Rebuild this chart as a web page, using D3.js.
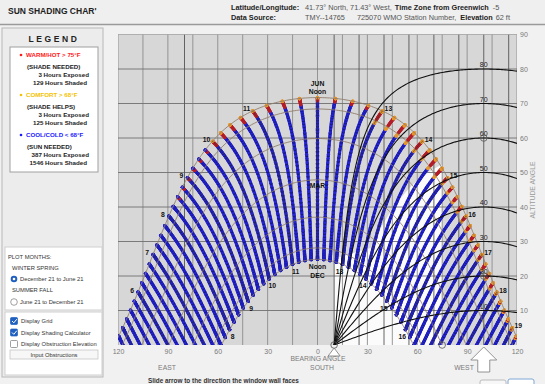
<!DOCTYPE html>
<html>
<head>
<meta charset="utf-8">
<script src="https://cdn.jsdelivr.net/npm/d3@7/dist/d3.min.js"></script>
<style>
  body { margin: 0; background: #f1f1f1; }
  text { font-family: "Liberation Sans", Arial, sans-serif; }
</style>
</head>
<body>
<svg id="chart"></svg>
<script>
// site + shading calculator settings
const latitude = 41.73;
const facadeBearing = 100;     // arrow under WEST
const overhangProfile = 55;    // top of the white area
const finBearing = 75;         // right edge of the white area
const sideCut = [10, 25, 32];  // bearing, altitude at the left edge; bearing where it meets the overhang curve

const headerTitle = "SUN SHADING CHAR'";
const headerRow1 = ["Latitude/Longitude:", "41.73° North, 71.43° West,", "Time Zone from Greenwich", "-5"];
const headerRow2 = ["Data Source:", "TMY--14765", "725070 WMO Station Number,", "Elevation", "62 ft"];

const legendLabels = ["WARM/HOT > 75°F", "COMFORT > 68°F", "COOL/COLD < 68°F"];
const legendNeeds = ["(SHADE NEEDED)", "(SHADE HELPS)", "(SUN NEEDED)"];
const hoursExposed = [3, 3, 387];
const hoursShaded = [129, 125, 1546];

const monthDays = [172, 141, 111, 80, 52, 21, 355]; // the 21st, Jun back to Dec (day of year)
const junHours = [6, 7, 8, 9, 10, 11, 13, 14, 15, 16, 17, 18, 19];
const decHours = [8, 9, 10, 11, 13, 14, 15, 16];
const profileAngles = [10, 20, 30, 40, 50, 60, 70, 80];
const finLines = [-80, 10, 25, 40, 55, 70, 85, 100, 115];
const bearingTicks = [-120, -90, -60, -30, 0, 30, 60, 90, 120];
const altitudeTicks = [10, 20, 30, 40, 50, 60, 70, 80, 90];

// june end of each 15 min stripe: one letter per 6 days back from Jun 21
const tipStart = [8.5, 10, 12, 13, 15, 18];
const tipCodes = ["brr", "orrr", "orr", "oorrro", "orrro", "oro"];

const colors = { b: "#2424d4", d: "#16168c", r: "#b31e2a", o: "#e8962a" };
const legendColors = ["#ff1a1a", "#f2c200", "#1a1aff"];

const svg = d3.select("#chart").attr("width", 545).attr("height", 384);
const rad = Math.PI / 180;

function sunPos(day, hour) {
  const dec = 23.45 * Math.sin(rad * 360 * (284 + day) / 365) * rad;
  const H = 15 * (hour - 12) * rad, lat = latitude * rad;
  const sinAlt = Math.sin(lat) * Math.sin(dec) + Math.cos(lat) * Math.cos(dec) * Math.cos(H);
  const alt = Math.asin(sinAlt) / rad;
  const az = Math.atan2(Math.sin(H) * Math.cos(dec),
    Math.cos(H) * Math.cos(dec) * Math.sin(lat) - Math.sin(dec) * Math.cos(lat)) / rad;
  return { az, alt };
}

const days = d3.range(355, 366).concat(d3.range(1, 173));
const daysBack = d => d <= 172 ? 172 - d : 172 + 365 - d;

// ---------- header ----------
svg.append("rect").attr("x", 0).attr("y", 0).attr("width", 545).attr("height", 24).attr("fill", "#efefef");
svg.append("line").attr("x1", 0).attr("x2", 545).attr("y1", 24.5).attr("y2", 24.5).attr("stroke", "#9a9a9a").attr("stroke-width", 1.5);
svg.append("text").attr("x", 8).attr("y", 14).text(headerTitle)
  .style("font-size", "8.5px").style("font-weight", "bold").attr("fill", "#222");

function headerRow(items, bold, yy, gaps) {
  let xx = 231;
  items.forEach((t, i) => {
    if (i == 1) xx = 305;
    const el = svg.append("text").attr("x", xx).attr("y", yy).text(t)
      .style("font-size", "7.3px")
      .style("font-weight", bold[i] ? "bold" : "normal")
      .attr("fill", bold[i] ? "#222" : "#555");
    xx += el.node().getComputedTextLength() + (gaps[i] || 3);
  });
}
headerRow(headerRow1, [1, 0, 1, 0], 10, [0, 3, 4]);
headerRow(headerRow2, [1, 0, 0, 1, 0], 20, [0, 12, 4, 3]);

// ---------- left panel ----------
svg.append("rect").attr("x", 2).attr("y", 28).attr("width", 101).attr("height", 349)
  .attr("fill", "#ececec").attr("stroke", "#b8b8b8");
svg.append("text").attr("x", 54).attr("y", 42).attr("text-anchor", "middle").text("LEGEND")
  .style("font-size", "8.5px").style("font-weight", "bold").style("letter-spacing", "2.6px").attr("fill", "#222");
svg.append("rect").attr("x", 10).attr("y", 47).attr("width", 88).attr("height", 125)
  .attr("fill", "#fff").attr("stroke", "#a0a0a0");

legendLabels.forEach((lab, i) => {
  const top = 57 + i * 40;
  svg.append("circle").attr("cx", 21).attr("cy", top - 2).attr("r", 1.3).attr("fill", legendColors[i]);
  svg.append("text").attr("x", 26).attr("y", top).text(lab)
    .style("font-size", "6.2px").style("font-weight", "bold").attr("fill", legendColors[i]);
  svg.append("text").attr("x", 27).attr("y", top + 12).text(legendNeeds[i])
    .style("font-size", "6.2px").style("font-weight", "bold").attr("fill", "#222");
  svg.append("text").attr("x", 89).attr("y", top + 20).attr("text-anchor", "end").text(hoursExposed[i] + " Hours Exposed")
    .style("font-size", "6.2px").style("font-weight", "bold").attr("fill", "#222");
  svg.append("text").attr("x", 87).attr("y", top + 28).attr("text-anchor", "end").text(hoursShaded[i] + " Hours Shaded")
    .style("font-size", "6.2px").style("font-weight", "bold").attr("fill", "#222");
});

svg.append("rect").attr("x", 5).attr("y", 247).attr("width", 97).attr("height", 63).attr("fill", "#fff").attr("stroke", "#cfcfcf");
svg.append("rect").attr("x", 5).attr("y", 312).attr("width", 97).attr("height", 63).attr("fill", "#fff").attr("stroke", "#cfcfcf");
const small = (t, x0, y0) => svg.append("text").attr("x", x0).attr("y", y0).text(t)
  .style("font-size", "5.8px").attr("fill", "#333");
small("PLOT MONTHS:", 8, 259);
small("WINTER SPRING", 12, 270);
small("December 21 to June 21", 20, 281);
small("SUMMER FALL", 12, 292);
small("June 21 to December 21", 20, 304);
svg.append("circle").attr("cx", 14).attr("cy", 279).attr("r", 3.3).attr("fill", "#1f5fbf");
svg.append("circle").attr("cx", 14).attr("cy", 279).attr("r", 1.3).attr("fill", "#fff");
svg.append("circle").attr("cx", 14).attr("cy", 302).attr("r", 3.3).attr("fill", "#fff").attr("stroke", "#777").attr("stroke-width", 0.7);

[["Display Grid", true], ["Display Shading Calculator", true], ["Display Obstruction Elevation", false]].forEach((c, i) => {
  const yy = 321 + i * 11.5;
  svg.append("rect").attr("x", 10.5).attr("y", yy - 3.5).attr("width", 7).attr("height", 7).attr("rx", 1)
    .attr("fill", c[1] ? "#1f5fbf" : "#fff").attr("stroke", c[1] ? "#1f5fbf" : "#777").attr("stroke-width", 0.7);
  if (c[1]) svg.append("path").attr("d", `M12,${yy} l1.8,1.8 l3,-3.6`).attr("fill", "none").attr("stroke", "#fff").attr("stroke-width", 1);
  small(c[0], 21, yy + 2);
});
svg.append("rect").attr("x", 10).attr("y", 350).attr("width", 88).attr("height", 9).attr("fill", "#f7f7f7").attr("stroke", "#bdbdbd").attr("stroke-width", 0.7);
svg.append("text").attr("x", 54).attr("y", 357).attr("text-anchor", "middle").text("Input Obstructions")
  .style("font-size", "5.8px").attr("fill", "#333");

// ---------- chart ----------
const x = d3.scaleLinear().domain([-120, 120]).range([118, 517]);
const y = d3.scaleLinear().domain([0, 90]).range([345, 34.5]);

svg.append("defs").append("clipPath").attr("id", "plotClip")
  .append("rect").attr("x", 118).attr("y", 34.5).attr("width", 399).attr("height", 310.5);

svg.append("rect").attr("x", 118).attr("y", 34.5).attr("width", 399).attr("height", 310.5).attr("fill", "#d7d7d7");

const plot = svg.append("g").attr("clip-path", "url(#plotClip)");

const profileAlt = (P, az) => Math.atan(Math.tan(P * rad) * Math.cos((az - facadeBearing) * rad)) / rad;

// white (exposed) part of the calculator
const whitePts = [[sideCut[0], 0], [sideCut[0], sideCut[1]]]
  .concat(d3.range(sideCut[2], finBearing + 0.1, 1).map(a => [a, profileAlt(overhangProfile, a)]));
whitePts.push([finBearing, 0]);
plot.append("path")
  .attr("d", d3.line().x(d => x(d[0])).y(d => y(d[1]))(whitePts) + "Z")
  .attr("fill", "#fbfbfb");

// grid
const grid = plot.append("g");
grid.selectAll(".v").data(d3.range(-120, 121, 15)).join("line")
  .attr("x1", d => x(d)).attr("x2", d => x(d)).attr("y1", y(0)).attr("y2", y(90))
  .attr("stroke", "#8c8c8c").attr("stroke-width", 0.9);
grid.selectAll(".h").data(altitudeTicks).join("line")
  .attr("x1", x(-120)).attr("x2", x(120)).attr("y1", d => y(d)).attr("y2", d => y(d))
  .attr("stroke", "#6f6f6f").attr("stroke-width", 0.9);
grid.selectAll(".f").data(finLines).join("line")
  .attr("x1", d => x(d)).attr("x2", d => x(d)).attr("y1", y(0)).attr("y2", y(90))
  .attr("stroke", "#555").attr("stroke-width", 0.9);

// hourly sun dots, 15 min stripes
function tipColor(hour, back, k) {
  const i = d3.bisectRight(tipStart, hour) - 1;
  if (i >= 0) {
    const c = tipCodes[i][Math.floor(back / 6)];
    if (c && c != "b") return colors[c];
  }
  return k % 3 == 0 ? colors.d : colors.b;
}
const dots = [];
d3.range(4, 20, 0.25).forEach(h => {
  days.forEach((d, k) => {
    const p = sunPos(d, h);
    if (p.alt > -0.5 && Math.abs(p.az) < 123) dots.push({ az: p.az, alt: p.alt, c: tipColor(h, daysBack(d), k) });
  });
});
plot.append("g").selectAll("circle").data(dots).join("circle")
  .attr("cx", d => x(d.az)).attr("cy", d => y(d.alt)).attr("r", 1.65).attr("fill", d => d.c);

// month arcs
const arcLine = d3.line().defined(d => d.alt >= 0 && Math.abs(d.az) <= 125).x(d => x(d.az)).y(d => y(d.alt));
plot.append("g").selectAll("path").data(monthDays).join("path")
  .attr("d", md => arcLine(d3.range(-180, 180.1, 0.5).map(hh => sunPos(md, 12 + hh / 15))))
  .attr("fill", "none").attr("stroke", "#8e7d6c").attr("stroke-width", 0.9);

// hour lines
const hourLine = d3.line().defined(d => d.alt >= 0).x(d => x(d.az)).y(d => y(d.alt));
plot.append("g").selectAll("path").data(d3.range(5, 20)).join("path")
  .attr("d", h => hourLine(days.map(d => sunPos(d, h))))
  .attr("fill", "none").attr("stroke", "#3a3430").attr("stroke-width", 0.6);

// profile (overhang) curves
const profLine = d3.line().x(d => x(d[0])).y(d => y(d[1]));
plot.append("g").selectAll("path").data(profileAngles).join("path")
  .attr("d", P => profLine(d3.range(facadeBearing - 90, 121, 1).map(a => [a, profileAlt(P, a)])))
  .attr("fill", "none").attr("stroke", "#111").attr("stroke-width", 1.1);
plot.append("g").selectAll("text").data(profileAngles).join("text")
  .attr("x", x(facadeBearing)).attr("y", P => y(P) - 2).attr("text-anchor", "middle").text(P => P)
  .style("font-size", "7px").attr("fill", "#222");

// hour labels
const lbl = (t, x0, y0) => svg.append("text").attr("x", x0).attr("y", y0).attr("text-anchor", "middle").text(t)
  .style("font-size", "6.8px").style("font-weight", "bold").attr("fill", "#111");
junHours.forEach(h => {
  const p = sunPos(172, h), s = h < 12 ? -1 : 1;
  lbl(h, x(p.az) + s * 6, y(p.alt) + 0.5);
});
decHours.forEach(h => {
  const p = sunPos(355, h), s = h < 12 ? 1 : -1;
  lbl(h, x(p.az) + s * 3, y(p.alt) + 9.5);
});
lbl("JUN", x(0), 85.5); lbl("Noon", x(0), 93.5);
lbl("Noon", x(0), 268.5); lbl("DEC", x(0), 277.5);
lbl("MAR", x(0), 187.5);

// calculator markers
[[finBearing, 0], [facadeBearing, 60], [facadeBearing, 20], [facadeBearing - 90, 0]].forEach(m => {
  svg.append("circle").attr("cx", x(m[0])).attr("cy", y(m[1])).attr("r", 3.3)
    .attr("fill", "none").attr("stroke", "#555").attr("stroke-width", 0.8);
});
const ox = x(facadeBearing - 90);
svg.append("path").attr("d", `M${ox},348 L${ox - 6},356 L${ox + 6},356 Z`).attr("fill", "#fff").attr("stroke", "#777").attr("stroke-width", 0.8);
const ax = x(facadeBearing);
svg.append("path").attr("d", `M${ax},347 L${ax - 13},360 L${ax - 6},360 L${ax - 6},372 L${ax + 6},372 L${ax + 6},360 L${ax + 13},360 Z`)
  .attr("fill", "#fff").attr("stroke", "#888").attr("stroke-width", 0.9);

// axes
const xAxis = svg.append("g").attr("transform", "translate(0,345)")
  .call(d3.axisBottom(x).tickValues(bearingTicks).tickSize(0).tickPadding(4).tickFormat(d => Math.abs(d)));
const yAxis = svg.append("g").attr("transform", "translate(517,0)")
  .call(d3.axisRight(y).tickValues(altitudeTicks).tickSize(0).tickPadding(3));
[xAxis, yAxis].forEach(g => {
  g.select(".domain").remove();
  g.selectAll("text").style("font-size", "7px").style("font-family", "Liberation Sans, Arial, sans-serif").attr("fill", "#7a7a7a");
});
svg.append("text").attr("transform", "translate(535,190) rotate(-90)").attr("text-anchor", "middle")
  .text("ALTITUDE ANGLE").style("font-size", "6.8px").attr("fill", "#9a9a9a");
const axl = (t, x0, y0) => svg.append("text").attr("x", x0).attr("y", y0).attr("text-anchor", "middle").text(t)
  .style("font-size", "6.8px").attr("fill", "#7a7a7a");
axl("BEARING ANGLE", 318, 361);
axl("SOUTH", 322, 370);
axl("EAST", 167, 370);
axl("WEST", 464, 370);

svg.append("text").attr("x", 148).attr("y", 382.5).text("Slide arrow to the direction the window wall faces")
  .style("font-size", "6.4px").style("font-weight", "bold").attr("fill", "#333");
svg.append("rect").attr("x", 480).attr("y", 380).attr("width", 26).attr("height", 10).attr("rx", 2).attr("fill", "#f7f7f7").attr("stroke", "#bbb");
svg.append("rect").attr("x", 508).attr("y", 379).attr("width", 26).attr("height", 10).attr("rx", 2).attr("fill", "#fff").attr("stroke", "#7fa7d6");
</script>
</body>
</html>
